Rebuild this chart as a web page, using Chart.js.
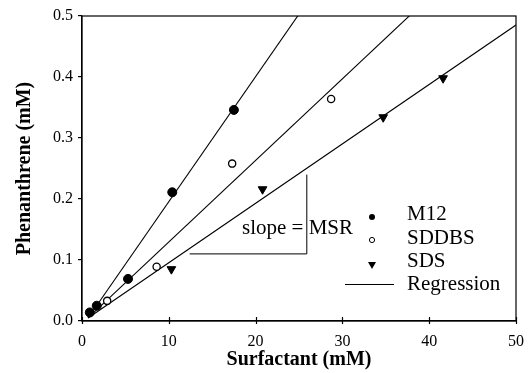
<!DOCTYPE html>
<html lang="en">
<head>
<meta charset="UTF-8">
<title>Phenanthrene vs Surfactant</title>
<script src="https://cdn.jsdelivr.net/npm/chart.js"></script>
<style>
    html, body { margin: 0; padding: 0; background: #fff; }
    #wrap { width: 528px; height: 373px; }
</style>
</head>
<body>
<div id="wrap"><canvas id="msrChart" width="528" height="373"></canvas></div>
<script>
// data (surfactant mM, phenanthrene mM)
const m12X = [0.9, 1.7, 5.3, 10.4, 17.5];
const m12Y = [0.014, 0.025, 0.069, 0.211, 0.346];
const sddbsX = [2.9, 8.6, 17.3, 28.7];
const sddbsY = [0.033, 0.089, 0.258, 0.364];
const sdsX = [10.3, 20.8, 34.7, 41.6];
const sdsY = [0.085, 0.216, 0.334, 0.398];

// regression lines: slope, intercept (same order as series)
const regSlopes = [0.0205, 0.01338, 0.00974];
const regIntercepts = [-0.0094, -0.0044, -0.0018];
const regRange = [0.7, 50];

// slope triangle drawn on the SDS line
const slopeTriX = [12.4, 25.9, 25.9];
const slopeTriY = [0.11, 0.11, 0.24];

const xTicks = [0, 10, 20, 30, 40, 50];
const yTicks = [0, 0.1, 0.2, 0.3, 0.4, 0.5];
const legendLabels = ['M12', 'SDDBS', 'SDS', 'Regression'];

const serif = "'Liberation Serif', 'Times New Roman', serif";
const toPts = (xs, ys) => xs.map((x, i) => ({ x: x, y: ys[i] }));
const regLine = i => regRange.map(x => ({ x: x, y: regIntercepts[i] + regSlopes[i] * x }));

// box, inward x ticks, annotation text and legend
const extras = {
    id: 'extras',
    afterDraw(chart) {
        const ctx = chart.ctx;
        const a = chart.chartArea;
        const xs = chart.scales.x;
        ctx.save();
        ctx.strokeStyle = '#000';
        ctx.lineWidth = 1.2;
        ctx.strokeRect(a.left, a.top, a.right - a.left, a.bottom - a.top);
        xTicks.forEach(v => {
            const px = Math.round(xs.getPixelForValue(v)) + 0.5;
            ctx.beginPath();
            ctx.moveTo(px, a.bottom + 3);
            ctx.lineTo(px, a.bottom - 4);
            ctx.stroke();
        });

        ctx.fillStyle = '#000';
        ctx.font = '21px ' + serif;
        ctx.textBaseline = 'middle';
        ctx.textAlign = 'left';
        ctx.fillText('slope = MSR', 242, 228);

        // legend
        const rows = [214, 238, 261, 284];
        const mx = 372;
        legendLabels.forEach((t, i) => ctx.fillText(t, 407, rows[i]));
        ctx.beginPath();
        ctx.arc(mx, rows[0] + 3, 3, 0, Math.PI * 2);
        ctx.fill();
        ctx.beginPath();
        ctx.lineWidth = 1;
        ctx.arc(mx, rows[1] + 2, 2.6, 0, Math.PI * 2);
        ctx.stroke();
        ctx.beginPath();
        ctx.moveTo(mx - 4, rows[2] + 1);
        ctx.lineTo(mx + 4, rows[2] + 1);
        ctx.lineTo(mx, rows[2] + 8);
        ctx.closePath();
        ctx.fill();
        ctx.beginPath();
        ctx.moveTo(345, rows[3] + 0.5);
        ctx.lineTo(394, rows[3] + 0.5);
        ctx.stroke();
        ctx.restore();
    }
};

const lineDs = (data, w) => ({
    type: 'line', data: data, borderColor: '#000', borderWidth: w,
    pointRadius: 0, fill: false, tension: 0, order: 2
});

new Chart(document.getElementById('msrChart'), {
    type: 'scatter',
    data: {
        datasets: [
            { label: 'M12', data: toPts(m12X, m12Y), pointStyle: 'circle', pointRadius: 4.5,
              backgroundColor: '#000', borderColor: '#000', borderWidth: 1, order: 1 },
            { label: 'SDDBS', data: toPts(sddbsX, sddbsY), pointStyle: 'circle', pointRadius: 3.6,
              backgroundColor: '#fff', borderColor: '#000', borderWidth: 1.3, order: 1 },
            { label: 'SDS', data: toPts(sdsX, sdsY), pointStyle: 'triangle', rotation: 180, pointRadius: 5,
              backgroundColor: '#000', borderColor: '#000', borderWidth: 1, order: 1 },
            lineDs(regLine(0), 1.1),
            lineDs(regLine(1), 1.1),
            lineDs(regLine(2), 1.1),
            lineDs(toPts(slopeTriX, slopeTriY), 1)
        ]
    },
    options: {
        responsive: false,
        animation: false,
        layout: { padding: { left: 0, right: 12, top: 16, bottom: 0 } },
        plugins: { legend: { display: false }, tooltip: { enabled: false } },
        scales: {
            x: {
                type: 'linear', min: 0, max: 50,
                afterFit: s => { s.height = 52; s.paddingLeft = 0; s.paddingRight = 0; },
                afterBuildTicks: s => { s.ticks = xTicks.map(v => ({ value: v })); },
                ticks: { color: '#000', font: { family: serif, size: 16 }, padding: 11, maxRotation: 0 },
                grid: { display: false, drawTicks: false },
                border: { color: '#000', width: 1.2 },
                title: { display: true, text: 'Surfactant (mM)', color: '#000',
                         font: { family: serif, size: 20, weight: 'bold' }, padding: { top: 0, bottom: 1 } }
            },
            y: {
                type: 'linear', min: 0, max: 0.5,
                afterFit: s => { s.width = 82; s.paddingTop = 0; s.paddingBottom = 0; },
                afterBuildTicks: s => { s.ticks = yTicks.map(v => ({ value: v })); },
                ticks: { color: '#000', font: { family: serif, size: 16 }, padding: 5,
                         callback: v => v.toFixed(1) },
                grid: { display: true, drawOnChartArea: false, tickLength: 4, color: '#000', lineWidth: 1.2 },
                border: { color: '#000', width: 1.2 },
                title: { display: true, text: 'Phenanthrene (mM)', color: '#000',
                         font: { family: serif, size: 20, weight: 'bold' }, padding: { top: 13, bottom: 0 } }
            }
        }
    },
    plugins: [extras]
});
</script>
</body>
</html>
